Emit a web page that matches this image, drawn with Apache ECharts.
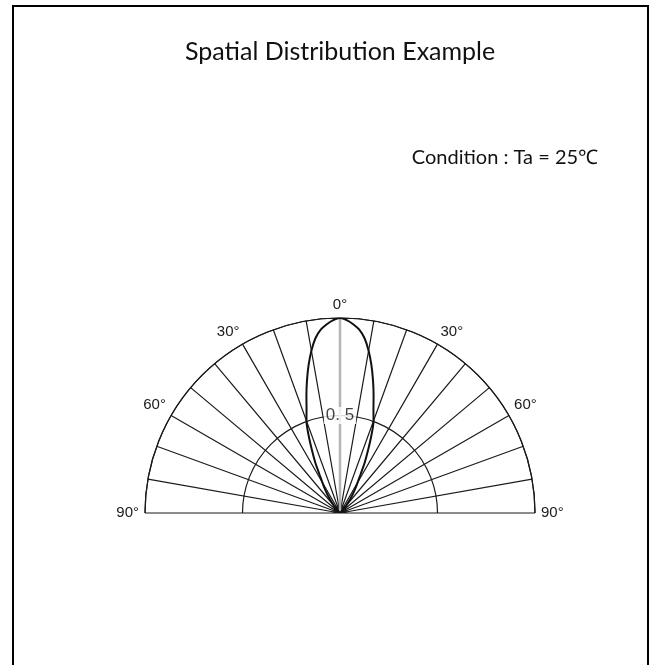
<!DOCTYPE html>
<html>
<head>
<meta charset="utf-8">
<script src="https://cdn.jsdelivr.net/npm/echarts@6/dist/echarts.min.js"></script>
<style>
  html, body { margin: 0; padding: 0; background: #fff; }
  #chart { width: 653px; height: 665px; }
</style>
</head>
<body>
<div id="chart"></div>
<script>
  // 相对强度 vs 角度 (右半边，左半边对称)
  let lobeAngles = [0, 2, 4, 6, 8, 10, 12, 14, 16, 18, 20, 22, 24, 26, 28, 30, 32, 35, 40, 45, 50]
  let lobeIntensity = [1.0, 0.99, 0.97, 0.945, 0.905, 0.845, 0.775, 0.70, 0.625, 0.555, 0.503, 0.43, 0.355, 0.29, 0.225, 0.18, 0.15, 0.105, 0.05, 0.02, 0]
  let angleLabels = [-90, -60, -30, 0, 30, 60, 90]
  let ringLabels = [{ r: 0.5, text: '0. 5' }]

  let lobeData = []
  for (let i = lobeAngles.length - 1; i > 0; i--) {
    lobeData.push([lobeIntensity[i], -lobeAngles[i]])
  }
  for (let i = 0; i < lobeAngles.length; i++) {
    lobeData.push([lobeIntensity[i], lobeAngles[i]])
  }

  let narrowFont = '"Liberation Sans Narrow", "Arial Narrow", "Liberation Sans", sans-serif'

  let chart = echarts.init(document.getElementById('chart'))
  chart.setOption({
    backgroundColor: '#fff',
    animation: false,
    title: [
      {
        text: 'Spatial Distribution Example',
        left: 180,
        top: 34,
        textStyle: { fontFamily: 'Lato, "Noto Sans", sans-serif', fontSize: 25, fontWeight: 'normal', color: '#111' }
      },
      {
        text: 'Condition : Ta = 25℃',
        right: 50,
        top: 143,
        textStyle: { fontFamily: 'Lato, "Noto Sans", "Noto Sans CJK SC", sans-serif', fontSize: 20, fontWeight: 'normal', color: '#111' }
      }
    ],
    graphic: [
      { // 外框
        type: 'polyline',
        shape: { points: [[13, 670], [13, 6], [648, 6], [648, 670]] },
        style: { stroke: '#000', lineWidth: 2, fill: null }
      }
    ],
    polar: {
      center: [340, 513],
      radius: 195
    },
    angleAxis: {
      type: 'value',
      min: -90,
      max: 90,
      interval: 10,
      startAngle: 180,
      endAngle: 0,
      clockwise: true,
      axisLine: { show: true, lineStyle: { color: '#1a1a1a', width: 1.2 } },
      axisTick: { show: false },
      splitLine: { show: true, lineStyle: { color: '#1a1a1a', width: 1.2 } },
      axisLabel: {
        margin: 6,
        color: '#1a1a1a',
        fontFamily: narrowFont,
        fontSize: 15,
        formatter: function (v) {
          return angleLabels.indexOf(v) > -1 ? Math.abs(v) + '°' : ''
        }
      }
    },
    radiusAxis: {
      type: 'value',
      min: 0,
      max: 1,
      interval: 0.5,
      axisLine: { show: false },
      axisTick: { show: false },
      axisLabel: { show: false },
      splitLine: { show: true, lineStyle: { color: '#1a1a1a', width: 1.2 } }
    },
    series: [
      {
        type: 'line',
        coordinateSystem: 'polar',
        data: [[0, 0], [1, 0]],
        symbol: 'none',
        silent: true,
        z: 2,
        lineStyle: { color: '#b4b4b4', width: 2.5 }
      },
      {
        type: 'line',
        coordinateSystem: 'polar',
        data: lobeData,
        symbol: 'none',
        smooth: 0.3,
        silent: true,
        z: 3,
        lineStyle: { color: '#111', width: 2 }
      },
      {
        type: 'scatter',
        coordinateSystem: 'polar',
        data: ringLabels.map(d => ({ value: [d.r, 0], name: d.text })),
        symbolSize: 0,
        silent: true,
        z: 4,
        label: {
          show: true,
          position: 'inside',
          formatter: '{b}',
          color: '#111',
          fontFamily: narrowFont,
          fontSize: 17,
          backgroundColor: '#fff',
          padding: [0, 2]
        }
      }
    ]
  })
</script>
</body>
</html>
